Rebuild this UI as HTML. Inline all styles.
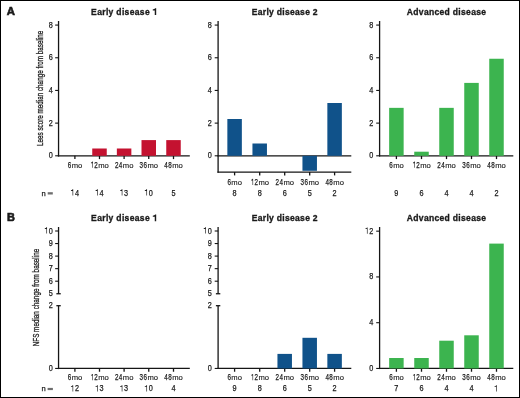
<!DOCTYPE html>
<html><head><meta charset="utf-8"><style>
html,body{margin:0;padding:0;background:#fff;}
svg{display:block;}
.w{will-change:transform;width:520px;height:398px;}
text{font-family:"Liberation Sans",sans-serif;fill:#1a1a1a;}
</style></head><body>
<div class="w"><svg width="520" height="398" viewBox="0 0 520 398">
<rect x="0" y="0" width="520" height="398" fill="#fff"/>
<rect x="0.5" y="0.5" width="519" height="397" fill="none" stroke="#000" stroke-width="1"/>
<text x="6.80" y="15.00" font-size="11.7" text-anchor="start" font-weight="bold" textLength="8.20" lengthAdjust="spacingAndGlyphs" stroke="#1a1a1a" stroke-width="0.65">A</text>
<text x="6.90" y="220.50" font-size="11.7" text-anchor="start" font-weight="bold" textLength="7.90" lengthAdjust="spacingAndGlyphs" stroke="#1a1a1a" stroke-width="0.65">B</text>
<text transform="translate(120.40,14.90) scale(0.9,1)" x="0.187" y="0" font-size="9.5" font-weight="bold" text-anchor="middle" letter-spacing="0.374" stroke="#1a1a1a" stroke-width="0.35">Early disease</text>
<path transform="translate(152.350,14.900) scale(8.7400,-9.5000)" d="M0.44,0 L0.44,0.709 L0.315,0.709 C0.27,0.63 0.17,0.59 0.05,0.585 L0.05,0.475 L0.275,0.475 L0.275,0 Z" fill="#1a1a1a"/>
<text transform="translate(284.65,14.90) scale(0.9,1)" x="0.167" y="0" font-size="9.5" font-weight="bold" text-anchor="middle" letter-spacing="0.334" stroke="#1a1a1a" stroke-width="0.35">Early disease 2</text>
<text transform="translate(446.45,14.90) scale(0.9,1)" x="0.178" y="0" font-size="9.5" font-weight="bold" text-anchor="middle" letter-spacing="0.355" stroke="#1a1a1a" stroke-width="0.35">Advanced disease</text>
<text transform="translate(120.40,221.30) scale(0.9,1)" x="0.187" y="0" font-size="9.5" font-weight="bold" text-anchor="middle" letter-spacing="0.374" stroke="#1a1a1a" stroke-width="0.35">Early disease</text>
<path transform="translate(152.350,221.300) scale(8.7400,-9.5000)" d="M0.44,0 L0.44,0.709 L0.315,0.709 C0.27,0.63 0.17,0.59 0.05,0.585 L0.05,0.475 L0.275,0.475 L0.275,0 Z" fill="#1a1a1a"/>
<text transform="translate(284.65,221.30) scale(0.9,1)" x="0.167" y="0" font-size="9.5" font-weight="bold" text-anchor="middle" letter-spacing="0.334" stroke="#1a1a1a" stroke-width="0.35">Early disease 2</text>
<text transform="translate(446.45,221.30) scale(0.9,1)" x="0.178" y="0" font-size="9.5" font-weight="bold" text-anchor="middle" letter-spacing="0.355" stroke="#1a1a1a" stroke-width="0.35">Advanced disease</text>
<line x1="58.55" y1="21.00" x2="58.55" y2="156.45" stroke="#151515" stroke-width="1.3"/>
<line x1="55.15" y1="155.80" x2="58.55" y2="155.80" stroke="#151515" stroke-width="1.1"/>
<text x="52.80" y="158.35" font-size="8.8" text-anchor="end" textLength="4.06" lengthAdjust="spacingAndGlyphs" stroke="#1a1a1a" stroke-width="0.25">0</text>
<line x1="55.15" y1="123.12" x2="58.55" y2="123.12" stroke="#151515" stroke-width="1.1"/>
<text x="52.80" y="125.67" font-size="8.8" text-anchor="end" textLength="4.06" lengthAdjust="spacingAndGlyphs" stroke="#1a1a1a" stroke-width="0.25">2</text>
<line x1="55.15" y1="90.44" x2="58.55" y2="90.44" stroke="#151515" stroke-width="1.1"/>
<text x="52.80" y="92.99" font-size="8.8" text-anchor="end" textLength="4.06" lengthAdjust="spacingAndGlyphs" stroke="#1a1a1a" stroke-width="0.25">4</text>
<line x1="55.15" y1="57.76" x2="58.55" y2="57.76" stroke="#151515" stroke-width="1.1"/>
<text x="52.80" y="60.31" font-size="8.8" text-anchor="end" textLength="4.06" lengthAdjust="spacingAndGlyphs" stroke="#1a1a1a" stroke-width="0.25">6</text>
<line x1="55.15" y1="25.08" x2="58.55" y2="25.08" stroke="#151515" stroke-width="1.1"/>
<text x="52.80" y="27.63" font-size="8.8" text-anchor="end" textLength="4.06" lengthAdjust="spacingAndGlyphs" stroke="#1a1a1a" stroke-width="0.25">8</text>
<line x1="57.90" y1="155.80" x2="189.80" y2="155.80" stroke="#151515" stroke-width="1.3"/>
<line x1="74.90" y1="155.80" x2="74.90" y2="159.10" stroke="#151515" stroke-width="1.3"/>
<text x="69.45" y="167.80" font-size="8.8" text-anchor="middle" textLength="3.50" lengthAdjust="spacingAndGlyphs" stroke="#1a1a1a" stroke-width="0.25">6</text>
<text x="71.65" y="167.80" font-size="7.9" text-anchor="start" textLength="10.65" lengthAdjust="spacingAndGlyphs" stroke="#1a1a1a" stroke-width="0.12">mo</text>
<line x1="99.50" y1="155.80" x2="99.50" y2="159.10" stroke="#151515" stroke-width="1.3"/>
<path transform="translate(90.350,167.800) scale(6.2950,-8.8000)" d="M0.405,0 L0.405,0.709 L0.325,0.709 C0.29,0.645 0.21,0.61 0.10,0.60 L0.10,0.525 L0.315,0.525 L0.315,0 Z" fill="#1a1a1a"/>
<text x="96.00" y="167.80" font-size="8.8" text-anchor="middle" textLength="3.50" lengthAdjust="spacingAndGlyphs" stroke="#1a1a1a" stroke-width="0.25">2</text>
<text x="98.20" y="167.80" font-size="7.9" text-anchor="start" textLength="10.65" lengthAdjust="spacingAndGlyphs" stroke="#1a1a1a" stroke-width="0.12">mo</text>
<line x1="124.10" y1="155.80" x2="124.10" y2="159.10" stroke="#151515" stroke-width="1.3"/>
<text x="116.70" y="167.80" font-size="8.8" text-anchor="middle" textLength="3.50" lengthAdjust="spacingAndGlyphs" stroke="#1a1a1a" stroke-width="0.25">2</text>
<text x="120.60" y="167.80" font-size="8.8" text-anchor="middle" textLength="3.50" lengthAdjust="spacingAndGlyphs" stroke="#1a1a1a" stroke-width="0.25">4</text>
<text x="122.80" y="167.80" font-size="7.9" text-anchor="start" textLength="10.65" lengthAdjust="spacingAndGlyphs" stroke="#1a1a1a" stroke-width="0.12">mo</text>
<line x1="148.75" y1="155.80" x2="148.75" y2="159.10" stroke="#151515" stroke-width="1.3"/>
<text x="141.35" y="167.80" font-size="8.8" text-anchor="middle" textLength="3.50" lengthAdjust="spacingAndGlyphs" stroke="#1a1a1a" stroke-width="0.25">3</text>
<text x="145.25" y="167.80" font-size="8.8" text-anchor="middle" textLength="3.50" lengthAdjust="spacingAndGlyphs" stroke="#1a1a1a" stroke-width="0.25">6</text>
<text x="147.45" y="167.80" font-size="7.9" text-anchor="start" textLength="10.65" lengthAdjust="spacingAndGlyphs" stroke="#1a1a1a" stroke-width="0.12">mo</text>
<line x1="173.50" y1="155.80" x2="173.50" y2="159.10" stroke="#151515" stroke-width="1.3"/>
<text x="166.10" y="167.80" font-size="8.8" text-anchor="middle" textLength="3.50" lengthAdjust="spacingAndGlyphs" stroke="#1a1a1a" stroke-width="0.25">4</text>
<text x="170.00" y="167.80" font-size="8.8" text-anchor="middle" textLength="3.50" lengthAdjust="spacingAndGlyphs" stroke="#1a1a1a" stroke-width="0.25">8</text>
<text x="172.20" y="167.80" font-size="7.9" text-anchor="start" textLength="10.65" lengthAdjust="spacingAndGlyphs" stroke="#1a1a1a" stroke-width="0.12">mo</text>
<line x1="218.10" y1="21.00" x2="218.10" y2="172.75" stroke="#151515" stroke-width="1.3"/>
<line x1="214.70" y1="155.80" x2="218.10" y2="155.80" stroke="#151515" stroke-width="1.1"/>
<text x="211.70" y="158.35" font-size="8.8" text-anchor="end" textLength="4.06" lengthAdjust="spacingAndGlyphs" stroke="#1a1a1a" stroke-width="0.25">0</text>
<line x1="214.70" y1="123.12" x2="218.10" y2="123.12" stroke="#151515" stroke-width="1.1"/>
<text x="211.70" y="125.67" font-size="8.8" text-anchor="end" textLength="4.06" lengthAdjust="spacingAndGlyphs" stroke="#1a1a1a" stroke-width="0.25">2</text>
<line x1="214.70" y1="90.44" x2="218.10" y2="90.44" stroke="#151515" stroke-width="1.1"/>
<text x="211.70" y="92.99" font-size="8.8" text-anchor="end" textLength="4.06" lengthAdjust="spacingAndGlyphs" stroke="#1a1a1a" stroke-width="0.25">4</text>
<line x1="214.70" y1="57.76" x2="218.10" y2="57.76" stroke="#151515" stroke-width="1.1"/>
<text x="211.70" y="60.31" font-size="8.8" text-anchor="end" textLength="4.06" lengthAdjust="spacingAndGlyphs" stroke="#1a1a1a" stroke-width="0.25">6</text>
<line x1="214.70" y1="25.08" x2="218.10" y2="25.08" stroke="#151515" stroke-width="1.1"/>
<text x="211.70" y="27.63" font-size="8.8" text-anchor="end" textLength="4.06" lengthAdjust="spacingAndGlyphs" stroke="#1a1a1a" stroke-width="0.25">8</text>
<line x1="217.45" y1="155.80" x2="351.30" y2="155.80" stroke="#151515" stroke-width="1.3"/>
<line x1="217.45" y1="172.10" x2="351.30" y2="172.10" stroke="#151515" stroke-width="1.3"/>
<line x1="234.60" y1="172.10" x2="234.60" y2="175.40" stroke="#151515" stroke-width="1.3"/>
<text x="229.15" y="185.10" font-size="8.8" text-anchor="middle" textLength="3.50" lengthAdjust="spacingAndGlyphs" stroke="#1a1a1a" stroke-width="0.25">6</text>
<text x="231.35" y="185.10" font-size="7.9" text-anchor="start" textLength="10.65" lengthAdjust="spacingAndGlyphs" stroke="#1a1a1a" stroke-width="0.12">mo</text>
<line x1="259.70" y1="172.10" x2="259.70" y2="175.40" stroke="#151515" stroke-width="1.3"/>
<path transform="translate(250.550,185.100) scale(6.2950,-8.8000)" d="M0.405,0 L0.405,0.709 L0.325,0.709 C0.29,0.645 0.21,0.61 0.10,0.60 L0.10,0.525 L0.315,0.525 L0.315,0 Z" fill="#1a1a1a"/>
<text x="256.20" y="185.10" font-size="8.8" text-anchor="middle" textLength="3.50" lengthAdjust="spacingAndGlyphs" stroke="#1a1a1a" stroke-width="0.25">2</text>
<text x="258.40" y="185.10" font-size="7.9" text-anchor="start" textLength="10.65" lengthAdjust="spacingAndGlyphs" stroke="#1a1a1a" stroke-width="0.12">mo</text>
<line x1="284.70" y1="172.10" x2="284.70" y2="175.40" stroke="#151515" stroke-width="1.3"/>
<text x="277.30" y="185.10" font-size="8.8" text-anchor="middle" textLength="3.50" lengthAdjust="spacingAndGlyphs" stroke="#1a1a1a" stroke-width="0.25">2</text>
<text x="281.20" y="185.10" font-size="8.8" text-anchor="middle" textLength="3.50" lengthAdjust="spacingAndGlyphs" stroke="#1a1a1a" stroke-width="0.25">4</text>
<text x="283.40" y="185.10" font-size="7.9" text-anchor="start" textLength="10.65" lengthAdjust="spacingAndGlyphs" stroke="#1a1a1a" stroke-width="0.12">mo</text>
<line x1="309.70" y1="172.10" x2="309.70" y2="175.40" stroke="#151515" stroke-width="1.3"/>
<text x="302.30" y="185.10" font-size="8.8" text-anchor="middle" textLength="3.50" lengthAdjust="spacingAndGlyphs" stroke="#1a1a1a" stroke-width="0.25">3</text>
<text x="306.20" y="185.10" font-size="8.8" text-anchor="middle" textLength="3.50" lengthAdjust="spacingAndGlyphs" stroke="#1a1a1a" stroke-width="0.25">6</text>
<text x="308.40" y="185.10" font-size="7.9" text-anchor="start" textLength="10.65" lengthAdjust="spacingAndGlyphs" stroke="#1a1a1a" stroke-width="0.12">mo</text>
<line x1="334.60" y1="172.10" x2="334.60" y2="175.40" stroke="#151515" stroke-width="1.3"/>
<text x="327.20" y="185.10" font-size="8.8" text-anchor="middle" textLength="3.50" lengthAdjust="spacingAndGlyphs" stroke="#1a1a1a" stroke-width="0.25">4</text>
<text x="331.10" y="185.10" font-size="8.8" text-anchor="middle" textLength="3.50" lengthAdjust="spacingAndGlyphs" stroke="#1a1a1a" stroke-width="0.25">8</text>
<text x="333.30" y="185.10" font-size="7.9" text-anchor="start" textLength="10.65" lengthAdjust="spacingAndGlyphs" stroke="#1a1a1a" stroke-width="0.12">mo</text>
<line x1="379.60" y1="21.00" x2="379.60" y2="156.45" stroke="#151515" stroke-width="1.3"/>
<line x1="376.20" y1="155.80" x2="379.60" y2="155.80" stroke="#151515" stroke-width="1.1"/>
<text x="373.35" y="158.35" font-size="8.8" text-anchor="end" textLength="4.06" lengthAdjust="spacingAndGlyphs" stroke="#1a1a1a" stroke-width="0.25">0</text>
<line x1="376.20" y1="123.12" x2="379.60" y2="123.12" stroke="#151515" stroke-width="1.1"/>
<text x="373.35" y="125.67" font-size="8.8" text-anchor="end" textLength="4.06" lengthAdjust="spacingAndGlyphs" stroke="#1a1a1a" stroke-width="0.25">2</text>
<line x1="376.20" y1="90.44" x2="379.60" y2="90.44" stroke="#151515" stroke-width="1.1"/>
<text x="373.35" y="92.99" font-size="8.8" text-anchor="end" textLength="4.06" lengthAdjust="spacingAndGlyphs" stroke="#1a1a1a" stroke-width="0.25">4</text>
<line x1="376.20" y1="57.76" x2="379.60" y2="57.76" stroke="#151515" stroke-width="1.1"/>
<text x="373.35" y="60.31" font-size="8.8" text-anchor="end" textLength="4.06" lengthAdjust="spacingAndGlyphs" stroke="#1a1a1a" stroke-width="0.25">6</text>
<line x1="376.20" y1="25.08" x2="379.60" y2="25.08" stroke="#151515" stroke-width="1.1"/>
<text x="373.35" y="27.63" font-size="8.8" text-anchor="end" textLength="4.06" lengthAdjust="spacingAndGlyphs" stroke="#1a1a1a" stroke-width="0.25">8</text>
<line x1="378.95" y1="155.80" x2="513.30" y2="155.80" stroke="#151515" stroke-width="1.3"/>
<line x1="396.40" y1="155.80" x2="396.40" y2="159.10" stroke="#151515" stroke-width="1.3"/>
<text x="390.95" y="167.80" font-size="8.8" text-anchor="middle" textLength="3.50" lengthAdjust="spacingAndGlyphs" stroke="#1a1a1a" stroke-width="0.25">6</text>
<text x="393.15" y="167.80" font-size="7.9" text-anchor="start" textLength="10.65" lengthAdjust="spacingAndGlyphs" stroke="#1a1a1a" stroke-width="0.12">mo</text>
<line x1="421.50" y1="155.80" x2="421.50" y2="159.10" stroke="#151515" stroke-width="1.3"/>
<path transform="translate(412.350,167.800) scale(6.2950,-8.8000)" d="M0.405,0 L0.405,0.709 L0.325,0.709 C0.29,0.645 0.21,0.61 0.10,0.60 L0.10,0.525 L0.315,0.525 L0.315,0 Z" fill="#1a1a1a"/>
<text x="418.00" y="167.80" font-size="8.8" text-anchor="middle" textLength="3.50" lengthAdjust="spacingAndGlyphs" stroke="#1a1a1a" stroke-width="0.25">2</text>
<text x="420.20" y="167.80" font-size="7.9" text-anchor="start" textLength="10.65" lengthAdjust="spacingAndGlyphs" stroke="#1a1a1a" stroke-width="0.12">mo</text>
<line x1="446.50" y1="155.80" x2="446.50" y2="159.10" stroke="#151515" stroke-width="1.3"/>
<text x="439.10" y="167.80" font-size="8.8" text-anchor="middle" textLength="3.50" lengthAdjust="spacingAndGlyphs" stroke="#1a1a1a" stroke-width="0.25">2</text>
<text x="443.00" y="167.80" font-size="8.8" text-anchor="middle" textLength="3.50" lengthAdjust="spacingAndGlyphs" stroke="#1a1a1a" stroke-width="0.25">4</text>
<text x="445.20" y="167.80" font-size="7.9" text-anchor="start" textLength="10.65" lengthAdjust="spacingAndGlyphs" stroke="#1a1a1a" stroke-width="0.12">mo</text>
<line x1="471.50" y1="155.80" x2="471.50" y2="159.10" stroke="#151515" stroke-width="1.3"/>
<text x="464.10" y="167.80" font-size="8.8" text-anchor="middle" textLength="3.50" lengthAdjust="spacingAndGlyphs" stroke="#1a1a1a" stroke-width="0.25">3</text>
<text x="468.00" y="167.80" font-size="8.8" text-anchor="middle" textLength="3.50" lengthAdjust="spacingAndGlyphs" stroke="#1a1a1a" stroke-width="0.25">6</text>
<text x="470.20" y="167.80" font-size="7.9" text-anchor="start" textLength="10.65" lengthAdjust="spacingAndGlyphs" stroke="#1a1a1a" stroke-width="0.12">mo</text>
<line x1="496.50" y1="155.80" x2="496.50" y2="159.10" stroke="#151515" stroke-width="1.3"/>
<text x="489.10" y="167.80" font-size="8.8" text-anchor="middle" textLength="3.50" lengthAdjust="spacingAndGlyphs" stroke="#1a1a1a" stroke-width="0.25">4</text>
<text x="493.00" y="167.80" font-size="8.8" text-anchor="middle" textLength="3.50" lengthAdjust="spacingAndGlyphs" stroke="#1a1a1a" stroke-width="0.25">8</text>
<text x="495.20" y="167.80" font-size="7.9" text-anchor="start" textLength="10.65" lengthAdjust="spacingAndGlyphs" stroke="#1a1a1a" stroke-width="0.12">mo</text>
<rect x="92.25" y="148.50" width="14.50" height="7.30" fill="#c41230"/>
<rect x="116.85" y="148.50" width="14.50" height="7.30" fill="#c41230"/>
<rect x="141.50" y="140.10" width="14.50" height="15.70" fill="#c41230"/>
<rect x="166.25" y="140.10" width="14.50" height="15.70" fill="#c41230"/>
<rect x="227.35" y="119.00" width="14.50" height="36.80" fill="#10528a"/>
<rect x="252.45" y="143.50" width="14.50" height="12.30" fill="#10528a"/>
<rect x="302.45" y="155.80" width="14.50" height="15.00" fill="#10528a"/>
<rect x="327.35" y="103.00" width="14.50" height="52.80" fill="#10528a"/>
<rect x="389.15" y="107.85" width="14.50" height="47.95" fill="#3cb44f"/>
<rect x="414.25" y="151.70" width="14.50" height="4.10" fill="#3cb44f"/>
<rect x="439.25" y="107.85" width="14.50" height="47.95" fill="#3cb44f"/>
<rect x="464.25" y="82.90" width="14.50" height="72.90" fill="#3cb44f"/>
<rect x="489.25" y="58.75" width="14.50" height="97.05" fill="#3cb44f"/>
<path transform="translate(70.238,195.500) scale(7.3052,-8.8000)" d="M0.405,0 L0.405,0.709 L0.325,0.709 C0.29,0.645 0.21,0.61 0.10,0.60 L0.10,0.525 L0.315,0.525 L0.315,0 Z" fill="#1a1a1a"/>
<text x="74.90" y="195.50" font-size="8.8" text-anchor="middle" textLength="8.12" lengthAdjust="spacingAndGlyphs" stroke="#1a1a1a" stroke-width="0.25"> 4</text>
<path transform="translate(94.838,195.500) scale(7.3052,-8.8000)" d="M0.405,0 L0.405,0.709 L0.325,0.709 C0.29,0.645 0.21,0.61 0.10,0.60 L0.10,0.525 L0.315,0.525 L0.315,0 Z" fill="#1a1a1a"/>
<text x="99.50" y="195.50" font-size="8.8" text-anchor="middle" textLength="8.12" lengthAdjust="spacingAndGlyphs" stroke="#1a1a1a" stroke-width="0.25"> 4</text>
<path transform="translate(119.438,195.500) scale(7.3052,-8.8000)" d="M0.405,0 L0.405,0.709 L0.325,0.709 C0.29,0.645 0.21,0.61 0.10,0.60 L0.10,0.525 L0.315,0.525 L0.315,0 Z" fill="#1a1a1a"/>
<text x="124.10" y="195.50" font-size="8.8" text-anchor="middle" textLength="8.12" lengthAdjust="spacingAndGlyphs" stroke="#1a1a1a" stroke-width="0.25"> 3</text>
<path transform="translate(144.088,195.500) scale(7.3052,-8.8000)" d="M0.405,0 L0.405,0.709 L0.325,0.709 C0.29,0.645 0.21,0.61 0.10,0.60 L0.10,0.525 L0.315,0.525 L0.315,0 Z" fill="#1a1a1a"/>
<text x="148.75" y="195.50" font-size="8.8" text-anchor="middle" textLength="8.12" lengthAdjust="spacingAndGlyphs" stroke="#1a1a1a" stroke-width="0.25"> 0</text>
<text x="173.50" y="195.50" font-size="8.8" text-anchor="middle" textLength="4.06" lengthAdjust="spacingAndGlyphs" stroke="#1a1a1a" stroke-width="0.25">5</text>
<text x="234.60" y="195.50" font-size="8.8" text-anchor="middle" textLength="4.06" lengthAdjust="spacingAndGlyphs" stroke="#1a1a1a" stroke-width="0.25">8</text>
<text x="259.70" y="195.50" font-size="8.8" text-anchor="middle" textLength="4.06" lengthAdjust="spacingAndGlyphs" stroke="#1a1a1a" stroke-width="0.25">8</text>
<text x="284.70" y="195.50" font-size="8.8" text-anchor="middle" textLength="4.06" lengthAdjust="spacingAndGlyphs" stroke="#1a1a1a" stroke-width="0.25">6</text>
<text x="309.70" y="195.50" font-size="8.8" text-anchor="middle" textLength="4.06" lengthAdjust="spacingAndGlyphs" stroke="#1a1a1a" stroke-width="0.25">5</text>
<text x="334.60" y="195.50" font-size="8.8" text-anchor="middle" textLength="4.06" lengthAdjust="spacingAndGlyphs" stroke="#1a1a1a" stroke-width="0.25">2</text>
<text x="396.40" y="195.50" font-size="8.8" text-anchor="middle" textLength="4.06" lengthAdjust="spacingAndGlyphs" stroke="#1a1a1a" stroke-width="0.25">9</text>
<text x="421.50" y="195.50" font-size="8.8" text-anchor="middle" textLength="4.06" lengthAdjust="spacingAndGlyphs" stroke="#1a1a1a" stroke-width="0.25">6</text>
<text x="446.50" y="195.50" font-size="8.8" text-anchor="middle" textLength="4.06" lengthAdjust="spacingAndGlyphs" stroke="#1a1a1a" stroke-width="0.25">4</text>
<text x="471.50" y="195.50" font-size="8.8" text-anchor="middle" textLength="4.06" lengthAdjust="spacingAndGlyphs" stroke="#1a1a1a" stroke-width="0.25">4</text>
<text x="496.50" y="195.50" font-size="8.8" text-anchor="middle" textLength="4.06" lengthAdjust="spacingAndGlyphs" stroke="#1a1a1a" stroke-width="0.25">2</text>
<text x="43.55" y="195.90" font-size="7.8" text-anchor="middle" textLength="4.21" lengthAdjust="spacingAndGlyphs" stroke="#1a1a1a" stroke-width="0.25">n</text>
<rect x="47.70" y="192.20" width="5.10" height="2.30" fill="#6e6e6e"/>
<line x1="58.55" y1="227.00" x2="58.55" y2="293.75" stroke="#151515" stroke-width="1.3"/>
<line x1="56.35" y1="293.75" x2="60.75" y2="293.75" stroke="#151515" stroke-width="1.3"/>
<line x1="55.15" y1="231.00" x2="58.55" y2="231.00" stroke="#151515" stroke-width="1.1"/>
<line x1="55.15" y1="243.55" x2="58.55" y2="243.55" stroke="#151515" stroke-width="1.1"/>
<line x1="55.15" y1="256.10" x2="58.55" y2="256.10" stroke="#151515" stroke-width="1.1"/>
<line x1="55.15" y1="268.65" x2="58.55" y2="268.65" stroke="#151515" stroke-width="1.1"/>
<line x1="55.15" y1="281.20" x2="58.55" y2="281.20" stroke="#151515" stroke-width="1.1"/>
<path transform="translate(44.077,233.550) scale(7.3052,-8.8000)" d="M0.405,0 L0.405,0.709 L0.325,0.709 C0.29,0.645 0.21,0.61 0.10,0.60 L0.10,0.525 L0.315,0.525 L0.315,0 Z" fill="#1a1a1a"/>
<text x="52.80" y="233.55" font-size="8.8" text-anchor="end" textLength="8.12" lengthAdjust="spacingAndGlyphs" stroke="#1a1a1a" stroke-width="0.25"> 0</text>
<text x="52.80" y="246.10" font-size="8.8" text-anchor="end" textLength="4.06" lengthAdjust="spacingAndGlyphs" stroke="#1a1a1a" stroke-width="0.25">9</text>
<text x="52.80" y="258.65" font-size="8.8" text-anchor="end" textLength="4.06" lengthAdjust="spacingAndGlyphs" stroke="#1a1a1a" stroke-width="0.25">8</text>
<text x="52.80" y="271.20" font-size="8.8" text-anchor="end" textLength="4.06" lengthAdjust="spacingAndGlyphs" stroke="#1a1a1a" stroke-width="0.25">7</text>
<text x="52.80" y="283.75" font-size="8.8" text-anchor="end" textLength="4.06" lengthAdjust="spacingAndGlyphs" stroke="#1a1a1a" stroke-width="0.25">6</text>
<text x="52.80" y="296.30" font-size="8.8" text-anchor="end" textLength="4.06" lengthAdjust="spacingAndGlyphs" stroke="#1a1a1a" stroke-width="0.25">5</text>
<line x1="58.55" y1="305.70" x2="58.55" y2="369.10" stroke="#151515" stroke-width="1.3"/>
<line x1="56.35" y1="305.70" x2="60.75" y2="305.70" stroke="#151515" stroke-width="1.3"/>
<line x1="55.15" y1="368.45" x2="58.55" y2="368.45" stroke="#151515" stroke-width="1.1"/>
<text x="52.80" y="308.20" font-size="8.8" text-anchor="end" textLength="4.06" lengthAdjust="spacingAndGlyphs" stroke="#1a1a1a" stroke-width="0.25">2</text>
<text x="52.80" y="371.00" font-size="8.8" text-anchor="end" textLength="4.06" lengthAdjust="spacingAndGlyphs" stroke="#1a1a1a" stroke-width="0.25">0</text>
<line x1="57.90" y1="368.45" x2="189.80" y2="368.45" stroke="#151515" stroke-width="1.3"/>
<line x1="74.90" y1="368.45" x2="74.90" y2="371.75" stroke="#151515" stroke-width="1.3"/>
<text x="69.45" y="380.15" font-size="8.8" text-anchor="middle" textLength="3.50" lengthAdjust="spacingAndGlyphs" stroke="#1a1a1a" stroke-width="0.25">6</text>
<text x="71.65" y="380.15" font-size="7.9" text-anchor="start" textLength="10.65" lengthAdjust="spacingAndGlyphs" stroke="#1a1a1a" stroke-width="0.12">mo</text>
<line x1="99.50" y1="368.45" x2="99.50" y2="371.75" stroke="#151515" stroke-width="1.3"/>
<path transform="translate(90.350,380.150) scale(6.2950,-8.8000)" d="M0.405,0 L0.405,0.709 L0.325,0.709 C0.29,0.645 0.21,0.61 0.10,0.60 L0.10,0.525 L0.315,0.525 L0.315,0 Z" fill="#1a1a1a"/>
<text x="96.00" y="380.15" font-size="8.8" text-anchor="middle" textLength="3.50" lengthAdjust="spacingAndGlyphs" stroke="#1a1a1a" stroke-width="0.25">2</text>
<text x="98.20" y="380.15" font-size="7.9" text-anchor="start" textLength="10.65" lengthAdjust="spacingAndGlyphs" stroke="#1a1a1a" stroke-width="0.12">mo</text>
<line x1="124.10" y1="368.45" x2="124.10" y2="371.75" stroke="#151515" stroke-width="1.3"/>
<text x="116.70" y="380.15" font-size="8.8" text-anchor="middle" textLength="3.50" lengthAdjust="spacingAndGlyphs" stroke="#1a1a1a" stroke-width="0.25">2</text>
<text x="120.60" y="380.15" font-size="8.8" text-anchor="middle" textLength="3.50" lengthAdjust="spacingAndGlyphs" stroke="#1a1a1a" stroke-width="0.25">4</text>
<text x="122.80" y="380.15" font-size="7.9" text-anchor="start" textLength="10.65" lengthAdjust="spacingAndGlyphs" stroke="#1a1a1a" stroke-width="0.12">mo</text>
<line x1="148.75" y1="368.45" x2="148.75" y2="371.75" stroke="#151515" stroke-width="1.3"/>
<text x="141.35" y="380.15" font-size="8.8" text-anchor="middle" textLength="3.50" lengthAdjust="spacingAndGlyphs" stroke="#1a1a1a" stroke-width="0.25">3</text>
<text x="145.25" y="380.15" font-size="8.8" text-anchor="middle" textLength="3.50" lengthAdjust="spacingAndGlyphs" stroke="#1a1a1a" stroke-width="0.25">6</text>
<text x="147.45" y="380.15" font-size="7.9" text-anchor="start" textLength="10.65" lengthAdjust="spacingAndGlyphs" stroke="#1a1a1a" stroke-width="0.12">mo</text>
<line x1="173.50" y1="368.45" x2="173.50" y2="371.75" stroke="#151515" stroke-width="1.3"/>
<text x="166.10" y="380.15" font-size="8.8" text-anchor="middle" textLength="3.50" lengthAdjust="spacingAndGlyphs" stroke="#1a1a1a" stroke-width="0.25">4</text>
<text x="170.00" y="380.15" font-size="8.8" text-anchor="middle" textLength="3.50" lengthAdjust="spacingAndGlyphs" stroke="#1a1a1a" stroke-width="0.25">8</text>
<text x="172.20" y="380.15" font-size="7.9" text-anchor="start" textLength="10.65" lengthAdjust="spacingAndGlyphs" stroke="#1a1a1a" stroke-width="0.12">mo</text>
<line x1="218.10" y1="227.00" x2="218.10" y2="293.75" stroke="#151515" stroke-width="1.3"/>
<line x1="215.90" y1="293.75" x2="220.30" y2="293.75" stroke="#151515" stroke-width="1.3"/>
<line x1="214.70" y1="231.00" x2="218.10" y2="231.00" stroke="#151515" stroke-width="1.1"/>
<line x1="214.70" y1="243.55" x2="218.10" y2="243.55" stroke="#151515" stroke-width="1.1"/>
<line x1="214.70" y1="256.10" x2="218.10" y2="256.10" stroke="#151515" stroke-width="1.1"/>
<line x1="214.70" y1="268.65" x2="218.10" y2="268.65" stroke="#151515" stroke-width="1.1"/>
<line x1="214.70" y1="281.20" x2="218.10" y2="281.20" stroke="#151515" stroke-width="1.1"/>
<path transform="translate(202.977,233.550) scale(7.3052,-8.8000)" d="M0.405,0 L0.405,0.709 L0.325,0.709 C0.29,0.645 0.21,0.61 0.10,0.60 L0.10,0.525 L0.315,0.525 L0.315,0 Z" fill="#1a1a1a"/>
<text x="211.70" y="233.55" font-size="8.8" text-anchor="end" textLength="8.12" lengthAdjust="spacingAndGlyphs" stroke="#1a1a1a" stroke-width="0.25"> 0</text>
<text x="211.70" y="246.10" font-size="8.8" text-anchor="end" textLength="4.06" lengthAdjust="spacingAndGlyphs" stroke="#1a1a1a" stroke-width="0.25">9</text>
<text x="211.70" y="258.65" font-size="8.8" text-anchor="end" textLength="4.06" lengthAdjust="spacingAndGlyphs" stroke="#1a1a1a" stroke-width="0.25">8</text>
<text x="211.70" y="271.20" font-size="8.8" text-anchor="end" textLength="4.06" lengthAdjust="spacingAndGlyphs" stroke="#1a1a1a" stroke-width="0.25">7</text>
<text x="211.70" y="283.75" font-size="8.8" text-anchor="end" textLength="4.06" lengthAdjust="spacingAndGlyphs" stroke="#1a1a1a" stroke-width="0.25">6</text>
<text x="211.70" y="296.30" font-size="8.8" text-anchor="end" textLength="4.06" lengthAdjust="spacingAndGlyphs" stroke="#1a1a1a" stroke-width="0.25">5</text>
<line x1="218.10" y1="305.70" x2="218.10" y2="369.10" stroke="#151515" stroke-width="1.3"/>
<line x1="215.90" y1="305.70" x2="220.30" y2="305.70" stroke="#151515" stroke-width="1.3"/>
<line x1="214.70" y1="368.45" x2="218.10" y2="368.45" stroke="#151515" stroke-width="1.1"/>
<text x="211.70" y="308.20" font-size="8.8" text-anchor="end" textLength="4.06" lengthAdjust="spacingAndGlyphs" stroke="#1a1a1a" stroke-width="0.25">2</text>
<text x="211.70" y="371.00" font-size="8.8" text-anchor="end" textLength="4.06" lengthAdjust="spacingAndGlyphs" stroke="#1a1a1a" stroke-width="0.25">0</text>
<line x1="217.45" y1="368.45" x2="351.30" y2="368.45" stroke="#151515" stroke-width="1.3"/>
<line x1="234.60" y1="368.45" x2="234.60" y2="371.75" stroke="#151515" stroke-width="1.3"/>
<text x="229.15" y="380.15" font-size="8.8" text-anchor="middle" textLength="3.50" lengthAdjust="spacingAndGlyphs" stroke="#1a1a1a" stroke-width="0.25">6</text>
<text x="231.35" y="380.15" font-size="7.9" text-anchor="start" textLength="10.65" lengthAdjust="spacingAndGlyphs" stroke="#1a1a1a" stroke-width="0.12">mo</text>
<line x1="259.70" y1="368.45" x2="259.70" y2="371.75" stroke="#151515" stroke-width="1.3"/>
<path transform="translate(250.550,380.150) scale(6.2950,-8.8000)" d="M0.405,0 L0.405,0.709 L0.325,0.709 C0.29,0.645 0.21,0.61 0.10,0.60 L0.10,0.525 L0.315,0.525 L0.315,0 Z" fill="#1a1a1a"/>
<text x="256.20" y="380.15" font-size="8.8" text-anchor="middle" textLength="3.50" lengthAdjust="spacingAndGlyphs" stroke="#1a1a1a" stroke-width="0.25">2</text>
<text x="258.40" y="380.15" font-size="7.9" text-anchor="start" textLength="10.65" lengthAdjust="spacingAndGlyphs" stroke="#1a1a1a" stroke-width="0.12">mo</text>
<line x1="284.70" y1="368.45" x2="284.70" y2="371.75" stroke="#151515" stroke-width="1.3"/>
<text x="277.30" y="380.15" font-size="8.8" text-anchor="middle" textLength="3.50" lengthAdjust="spacingAndGlyphs" stroke="#1a1a1a" stroke-width="0.25">2</text>
<text x="281.20" y="380.15" font-size="8.8" text-anchor="middle" textLength="3.50" lengthAdjust="spacingAndGlyphs" stroke="#1a1a1a" stroke-width="0.25">4</text>
<text x="283.40" y="380.15" font-size="7.9" text-anchor="start" textLength="10.65" lengthAdjust="spacingAndGlyphs" stroke="#1a1a1a" stroke-width="0.12">mo</text>
<line x1="309.70" y1="368.45" x2="309.70" y2="371.75" stroke="#151515" stroke-width="1.3"/>
<text x="302.30" y="380.15" font-size="8.8" text-anchor="middle" textLength="3.50" lengthAdjust="spacingAndGlyphs" stroke="#1a1a1a" stroke-width="0.25">3</text>
<text x="306.20" y="380.15" font-size="8.8" text-anchor="middle" textLength="3.50" lengthAdjust="spacingAndGlyphs" stroke="#1a1a1a" stroke-width="0.25">6</text>
<text x="308.40" y="380.15" font-size="7.9" text-anchor="start" textLength="10.65" lengthAdjust="spacingAndGlyphs" stroke="#1a1a1a" stroke-width="0.12">mo</text>
<line x1="334.60" y1="368.45" x2="334.60" y2="371.75" stroke="#151515" stroke-width="1.3"/>
<text x="327.20" y="380.15" font-size="8.8" text-anchor="middle" textLength="3.50" lengthAdjust="spacingAndGlyphs" stroke="#1a1a1a" stroke-width="0.25">4</text>
<text x="331.10" y="380.15" font-size="8.8" text-anchor="middle" textLength="3.50" lengthAdjust="spacingAndGlyphs" stroke="#1a1a1a" stroke-width="0.25">8</text>
<text x="333.30" y="380.15" font-size="7.9" text-anchor="start" textLength="10.65" lengthAdjust="spacingAndGlyphs" stroke="#1a1a1a" stroke-width="0.12">mo</text>
<line x1="379.60" y1="227.00" x2="379.60" y2="369.10" stroke="#151515" stroke-width="1.3"/>
<line x1="376.20" y1="368.45" x2="379.60" y2="368.45" stroke="#151515" stroke-width="1.1"/>
<text x="373.35" y="371.00" font-size="8.8" text-anchor="end" textLength="4.06" lengthAdjust="spacingAndGlyphs" stroke="#1a1a1a" stroke-width="0.25">0</text>
<line x1="376.20" y1="322.69" x2="379.60" y2="322.69" stroke="#151515" stroke-width="1.1"/>
<text x="373.35" y="325.24" font-size="8.8" text-anchor="end" textLength="4.06" lengthAdjust="spacingAndGlyphs" stroke="#1a1a1a" stroke-width="0.25">4</text>
<line x1="376.20" y1="276.93" x2="379.60" y2="276.93" stroke="#151515" stroke-width="1.1"/>
<text x="373.35" y="279.48" font-size="8.8" text-anchor="end" textLength="4.06" lengthAdjust="spacingAndGlyphs" stroke="#1a1a1a" stroke-width="0.25">8</text>
<line x1="376.20" y1="231.17" x2="379.60" y2="231.17" stroke="#151515" stroke-width="1.1"/>
<path transform="translate(364.627,233.720) scale(7.3052,-8.8000)" d="M0.405,0 L0.405,0.709 L0.325,0.709 C0.29,0.645 0.21,0.61 0.10,0.60 L0.10,0.525 L0.315,0.525 L0.315,0 Z" fill="#1a1a1a"/>
<text x="373.35" y="233.72" font-size="8.8" text-anchor="end" textLength="8.12" lengthAdjust="spacingAndGlyphs" stroke="#1a1a1a" stroke-width="0.25"> 2</text>
<line x1="378.95" y1="368.45" x2="513.30" y2="368.45" stroke="#151515" stroke-width="1.3"/>
<line x1="396.40" y1="368.45" x2="396.40" y2="371.75" stroke="#151515" stroke-width="1.3"/>
<text x="390.95" y="380.15" font-size="8.8" text-anchor="middle" textLength="3.50" lengthAdjust="spacingAndGlyphs" stroke="#1a1a1a" stroke-width="0.25">6</text>
<text x="393.15" y="380.15" font-size="7.9" text-anchor="start" textLength="10.65" lengthAdjust="spacingAndGlyphs" stroke="#1a1a1a" stroke-width="0.12">mo</text>
<line x1="421.50" y1="368.45" x2="421.50" y2="371.75" stroke="#151515" stroke-width="1.3"/>
<path transform="translate(412.350,380.150) scale(6.2950,-8.8000)" d="M0.405,0 L0.405,0.709 L0.325,0.709 C0.29,0.645 0.21,0.61 0.10,0.60 L0.10,0.525 L0.315,0.525 L0.315,0 Z" fill="#1a1a1a"/>
<text x="418.00" y="380.15" font-size="8.8" text-anchor="middle" textLength="3.50" lengthAdjust="spacingAndGlyphs" stroke="#1a1a1a" stroke-width="0.25">2</text>
<text x="420.20" y="380.15" font-size="7.9" text-anchor="start" textLength="10.65" lengthAdjust="spacingAndGlyphs" stroke="#1a1a1a" stroke-width="0.12">mo</text>
<line x1="446.50" y1="368.45" x2="446.50" y2="371.75" stroke="#151515" stroke-width="1.3"/>
<text x="439.10" y="380.15" font-size="8.8" text-anchor="middle" textLength="3.50" lengthAdjust="spacingAndGlyphs" stroke="#1a1a1a" stroke-width="0.25">2</text>
<text x="443.00" y="380.15" font-size="8.8" text-anchor="middle" textLength="3.50" lengthAdjust="spacingAndGlyphs" stroke="#1a1a1a" stroke-width="0.25">4</text>
<text x="445.20" y="380.15" font-size="7.9" text-anchor="start" textLength="10.65" lengthAdjust="spacingAndGlyphs" stroke="#1a1a1a" stroke-width="0.12">mo</text>
<line x1="471.50" y1="368.45" x2="471.50" y2="371.75" stroke="#151515" stroke-width="1.3"/>
<text x="464.10" y="380.15" font-size="8.8" text-anchor="middle" textLength="3.50" lengthAdjust="spacingAndGlyphs" stroke="#1a1a1a" stroke-width="0.25">3</text>
<text x="468.00" y="380.15" font-size="8.8" text-anchor="middle" textLength="3.50" lengthAdjust="spacingAndGlyphs" stroke="#1a1a1a" stroke-width="0.25">6</text>
<text x="470.20" y="380.15" font-size="7.9" text-anchor="start" textLength="10.65" lengthAdjust="spacingAndGlyphs" stroke="#1a1a1a" stroke-width="0.12">mo</text>
<line x1="496.50" y1="368.45" x2="496.50" y2="371.75" stroke="#151515" stroke-width="1.3"/>
<text x="489.10" y="380.15" font-size="8.8" text-anchor="middle" textLength="3.50" lengthAdjust="spacingAndGlyphs" stroke="#1a1a1a" stroke-width="0.25">4</text>
<text x="493.00" y="380.15" font-size="8.8" text-anchor="middle" textLength="3.50" lengthAdjust="spacingAndGlyphs" stroke="#1a1a1a" stroke-width="0.25">8</text>
<text x="495.20" y="380.15" font-size="7.9" text-anchor="start" textLength="10.65" lengthAdjust="spacingAndGlyphs" stroke="#1a1a1a" stroke-width="0.12">mo</text>
<rect x="277.45" y="353.90" width="14.50" height="14.55" fill="#10528a"/>
<rect x="302.45" y="337.80" width="14.50" height="30.65" fill="#10528a"/>
<rect x="327.35" y="353.90" width="14.50" height="14.55" fill="#10528a"/>
<rect x="389.15" y="358.00" width="14.50" height="10.45" fill="#3cb44f"/>
<rect x="414.25" y="358.00" width="14.50" height="10.45" fill="#3cb44f"/>
<rect x="439.25" y="340.70" width="14.50" height="27.75" fill="#3cb44f"/>
<rect x="464.25" y="335.30" width="14.50" height="33.15" fill="#3cb44f"/>
<rect x="489.25" y="243.60" width="14.50" height="124.85" fill="#3cb44f"/>
<path transform="translate(70.238,391.400) scale(7.3052,-8.8000)" d="M0.405,0 L0.405,0.709 L0.325,0.709 C0.29,0.645 0.21,0.61 0.10,0.60 L0.10,0.525 L0.315,0.525 L0.315,0 Z" fill="#1a1a1a"/>
<text x="74.90" y="391.40" font-size="8.8" text-anchor="middle" textLength="8.12" lengthAdjust="spacingAndGlyphs" stroke="#1a1a1a" stroke-width="0.25"> 2</text>
<path transform="translate(94.838,391.400) scale(7.3052,-8.8000)" d="M0.405,0 L0.405,0.709 L0.325,0.709 C0.29,0.645 0.21,0.61 0.10,0.60 L0.10,0.525 L0.315,0.525 L0.315,0 Z" fill="#1a1a1a"/>
<text x="99.50" y="391.40" font-size="8.8" text-anchor="middle" textLength="8.12" lengthAdjust="spacingAndGlyphs" stroke="#1a1a1a" stroke-width="0.25"> 3</text>
<path transform="translate(119.438,391.400) scale(7.3052,-8.8000)" d="M0.405,0 L0.405,0.709 L0.325,0.709 C0.29,0.645 0.21,0.61 0.10,0.60 L0.10,0.525 L0.315,0.525 L0.315,0 Z" fill="#1a1a1a"/>
<text x="124.10" y="391.40" font-size="8.8" text-anchor="middle" textLength="8.12" lengthAdjust="spacingAndGlyphs" stroke="#1a1a1a" stroke-width="0.25"> 3</text>
<path transform="translate(144.088,391.400) scale(7.3052,-8.8000)" d="M0.405,0 L0.405,0.709 L0.325,0.709 C0.29,0.645 0.21,0.61 0.10,0.60 L0.10,0.525 L0.315,0.525 L0.315,0 Z" fill="#1a1a1a"/>
<text x="148.75" y="391.40" font-size="8.8" text-anchor="middle" textLength="8.12" lengthAdjust="spacingAndGlyphs" stroke="#1a1a1a" stroke-width="0.25"> 0</text>
<text x="173.50" y="391.40" font-size="8.8" text-anchor="middle" textLength="4.06" lengthAdjust="spacingAndGlyphs" stroke="#1a1a1a" stroke-width="0.25">4</text>
<text x="234.60" y="391.40" font-size="8.8" text-anchor="middle" textLength="4.06" lengthAdjust="spacingAndGlyphs" stroke="#1a1a1a" stroke-width="0.25">9</text>
<text x="259.70" y="391.40" font-size="8.8" text-anchor="middle" textLength="4.06" lengthAdjust="spacingAndGlyphs" stroke="#1a1a1a" stroke-width="0.25">8</text>
<text x="284.70" y="391.40" font-size="8.8" text-anchor="middle" textLength="4.06" lengthAdjust="spacingAndGlyphs" stroke="#1a1a1a" stroke-width="0.25">6</text>
<text x="309.70" y="391.40" font-size="8.8" text-anchor="middle" textLength="4.06" lengthAdjust="spacingAndGlyphs" stroke="#1a1a1a" stroke-width="0.25">5</text>
<text x="334.60" y="391.40" font-size="8.8" text-anchor="middle" textLength="4.06" lengthAdjust="spacingAndGlyphs" stroke="#1a1a1a" stroke-width="0.25">2</text>
<text x="396.40" y="391.40" font-size="8.8" text-anchor="middle" textLength="4.06" lengthAdjust="spacingAndGlyphs" stroke="#1a1a1a" stroke-width="0.25">7</text>
<text x="421.50" y="391.40" font-size="8.8" text-anchor="middle" textLength="4.06" lengthAdjust="spacingAndGlyphs" stroke="#1a1a1a" stroke-width="0.25">6</text>
<text x="446.50" y="391.40" font-size="8.8" text-anchor="middle" textLength="4.06" lengthAdjust="spacingAndGlyphs" stroke="#1a1a1a" stroke-width="0.25">4</text>
<text x="471.50" y="391.40" font-size="8.8" text-anchor="middle" textLength="4.06" lengthAdjust="spacingAndGlyphs" stroke="#1a1a1a" stroke-width="0.25">4</text>
<path transform="translate(493.869,391.400) scale(7.3052,-8.8000)" d="M0.405,0 L0.405,0.709 L0.325,0.709 C0.29,0.645 0.21,0.61 0.10,0.60 L0.10,0.525 L0.315,0.525 L0.315,0 Z" fill="#1a1a1a"/>
<text x="43.55" y="391.40" font-size="7.8" text-anchor="middle" textLength="4.21" lengthAdjust="spacingAndGlyphs" stroke="#1a1a1a" stroke-width="0.25">n</text>
<rect x="47.60" y="387.90" width="5.30" height="2.20" fill="#6e6e6e"/>
<text transform="translate(42.50,146.00) rotate(-90)" x="0" y="0" font-size="8.9" textLength="115.20" lengthAdjust="spacingAndGlyphs" stroke="#1a1a1a" stroke-width="0.3">Lees score median change from baseline</text>
<text transform="translate(38.70,346.30) rotate(-90)" x="0" y="0" font-size="9.4" textLength="97.50" lengthAdjust="spacingAndGlyphs" stroke="#1a1a1a" stroke-width="0.3">NFS median change from baseline</text>
</svg></div>
</body></html>
